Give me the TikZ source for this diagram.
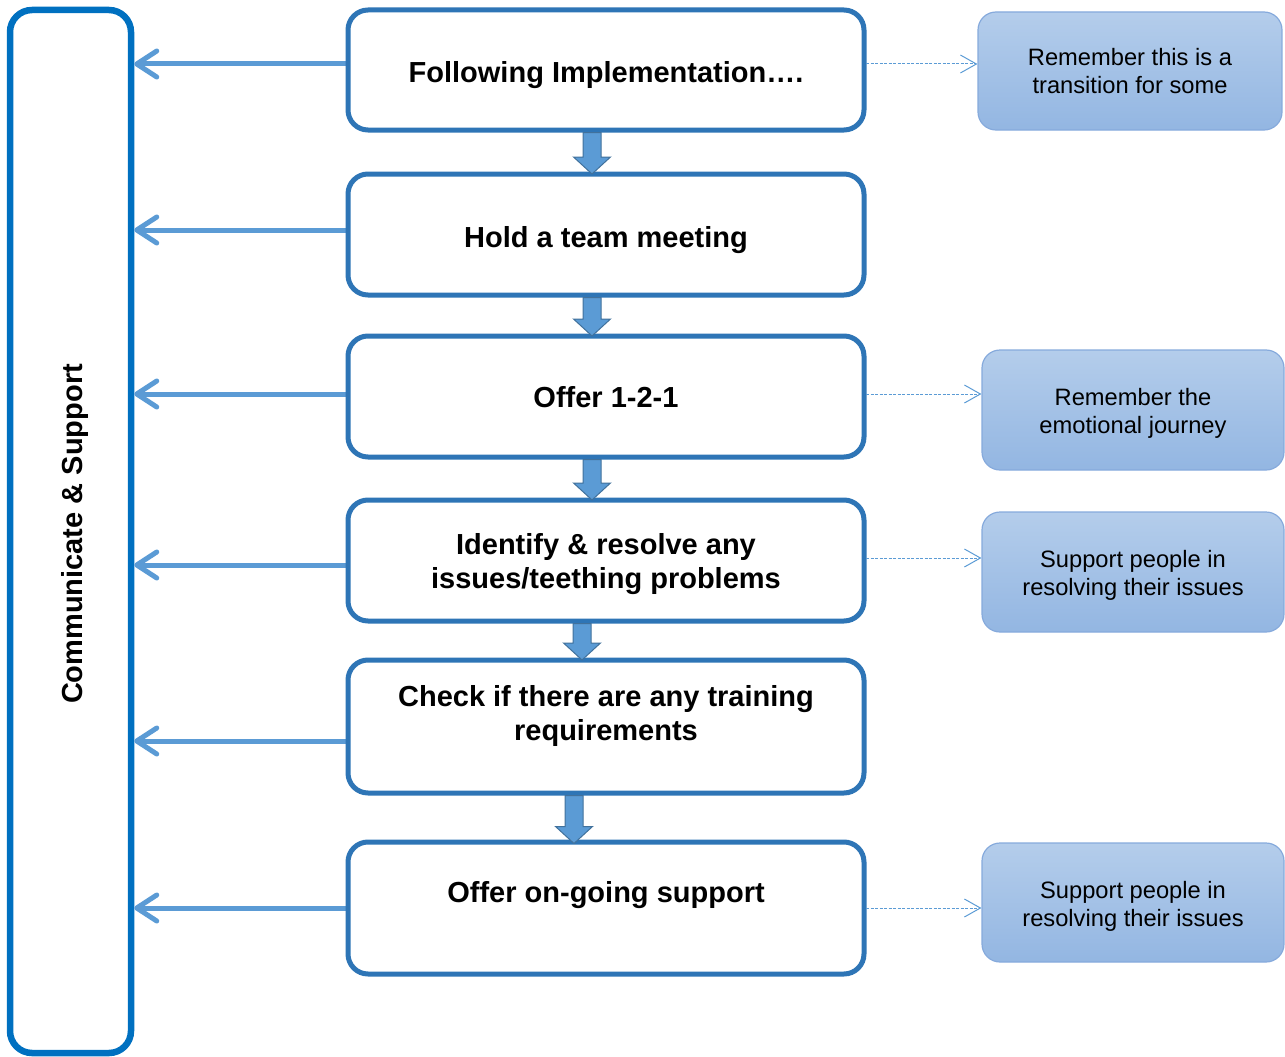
\documentclass[tikz,border=0pt]{standalone}
\usepackage{fontspec}
\setmainfont{Liberation Sans}
\usetikzlibrary{arrows.meta,calc}
\definecolor{leftblue}{HTML}{0070C0}
\definecolor{boxblue}{HTML}{2E75B6}
\definecolor{arrblue}{HTML}{5B9BD5}
\definecolor{arrdark}{HTML}{41719C}
\definecolor{sidetop}{HTML}{B4CDEB}
\definecolor{sidebot}{HTML}{93B6E2}
\definecolor{sideline}{HTML}{86AADC}
\newcommand\blkarr[2]{\path[blockarr] let \p1=(#1), \p2=(#2) in
  (\x1-9pt,\y1) -- (\x1+9pt,\y1) -- (\x1+9pt,\y2+17pt) -- (\x1+18.5pt,\y2+17pt)
  -- (\x2,\y2) -- (\x1-18.5pt,\y2+17pt) -- (\x1-9pt,\y2+17pt) -- cycle;}
\begin{document}
\begin{tikzpicture}[x=1pt,y=-1pt,
  mainbox/.style={draw=boxblue, line width=5pt, rounded corners=20pt, fill=white,
    minimum width=516pt, inner sep=0pt},
  maintext/.style={align=center, inner sep=0pt, font=\fontsize{29}{34}\selectfont\bfseries},
  sidebox/.style={draw=sideline, line width=1.2pt, rounded corners=18pt,
    top color=sidetop, bottom color=sidebot, inner sep=0pt},
  sidetext/.style={align=center, inner sep=0pt, font=\fontsize{23.7}{28}\selectfont},
  leftarr/.style={draw=arrblue, line width=5pt,
    -{Straight Barb[length=20pt,width=26pt,round]}},
  dasharr/.style={draw=arrblue, line width=1pt, dash pattern=on 3pt off 1.5pt,
    -{Straight Barb[length=16pt,width=18pt]}},
  blockarr/.style={fill=arrblue, draw=arrdark, line width=1pt}
]
\useasboundingbox (0,0) rectangle (1285,1057);

% left communicate box
\node[draw=leftblue, line width=6.5pt, rounded corners=22pt, minimum width=121pt,
  minimum height=1043pt, inner sep=0pt] (L) at (70.5,531.5) {};
\node[rotate=90, inner sep=0pt, font=\fontsize{29}{33}\selectfont\bfseries] (Lt) at (75,534) {Communicate \& Support};

% coordinates for arrows
\coordinate (l1) at (348,64);
\coordinate (l2) at (348,230);
\coordinate (l3) at (348,394);
\coordinate (l4) at (348,565);
\coordinate (l5) at (348,741);
\coordinate (l6) at (348,908);
\foreach \i in {1,...,6} {\draw[leftarr] (l\i) -- (l\i -| L.east);}

% main boxes
\node[mainbox, minimum height=120pt] (b1) at (606,70) {};
\node[mainbox, minimum height=121pt] (b2) at (606,234.5) {};
\node[mainbox, minimum height=121pt] (b3) at (606,396.5) {};
\node[mainbox, minimum height=121pt] (b4) at (606,560.5) {};
\node[mainbox, minimum height=133pt] (b5) at (606,726.5) {};
\node[mainbox, minimum height=132pt] (b6) at (606,908) {};
\node[maintext] (t1) at (606,75) {Following Implementation….};
\node[maintext] (t2) at (606,240) {Hold a team meeting};
\node[maintext] (t3) at (606,397.5) {Offer 1-2-1};
\node[maintext] (t4) at (606,564.5) {Identify \& resolve any\\issues/teething problems};
\node[maintext] (t5) at (606,716) {Check if there are any training\\requirements};
\node[maintext] (t6) at (606,895) {Offer on-going support};

% side boxes
\node[sidebox, minimum width=304pt, minimum height=118pt] (sA) at (1130,71) {};
\node[sidebox, minimum width=302pt, minimum height=120pt] (sB) at (1133,410) {};
\node[sidebox, minimum width=302pt, minimum height=120pt] (sC) at (1133,572) {};
\node[sidebox, minimum width=302pt, minimum height=119pt] (sD) at (1133,902.5) {};
\node[sidetext] (tA) at (1130,71) {Remember this is a\\transition for some};
\node[sidetext] (tB) at (1133,413) {Remember the\\emotional journey};
\node[sidetext] (tC) at (1133,575.5) {Support people in\\resolving their issues};
\node[sidetext] (tD) at (1133,906) {Support people in\\resolving their issues};

% dashed arrows
\coordinate (r1) at (866,64);
\coordinate (r3) at (866,394);
\coordinate (r4) at (866,558);
\coordinate (r6) at (866,908);
\draw[dasharr] (r1) -- (r1 -| sA.west);
\draw[dasharr] (r3) -- (r3 -| sB.west);
\draw[dasharr] (r4) -- (r4 -| sC.west);
\draw[dasharr] (r6) -- (r6 -| sD.west);

% block arrows
\coordinate (a1s) at ([xshift=-14pt]b1.south);
\coordinate (a1e) at ([xshift=-14pt,yshift=-2.5pt]b2.north);
\coordinate (a2s) at ([xshift=-14pt]b2.south);
\coordinate (a2e) at ([xshift=-14pt,yshift=-2.5pt]b3.north);
\coordinate (a3s) at ([xshift=-14pt]b3.south);
\coordinate (a3e) at ([xshift=-14pt,yshift=-2.5pt]b4.north);
\coordinate (a4s) at ([xshift=-24pt]b4.south);
\coordinate (a4e) at ([xshift=-24pt,yshift=-2.5pt]b5.north);
\coordinate (a5s) at ([xshift=-32pt]b5.south);
\coordinate (a5e) at ([xshift=-32pt,yshift=-4pt]b6.north);
\blkarr{a1s}{a1e}
\blkarr{a2s}{a2e}
\blkarr{a3s}{a3e}
\blkarr{a4s}{a4e}
\blkarr{a5s}{a5e}
\end{tikzpicture}
\end{document}
